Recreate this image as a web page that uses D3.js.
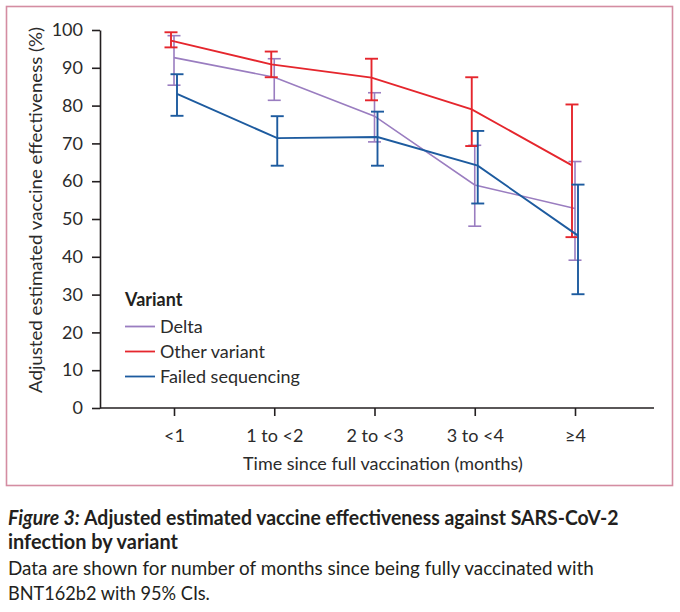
<!DOCTYPE html>
<html>
<head>
<meta charset="utf-8">
<script src="https://cdn.jsdelivr.net/npm/d3@7"></script>
<style>
  html, body { margin: 0; padding: 0; background: #fff; }
  svg { display: block; }
  text { font-family: Lato, "Open Sans", "Noto Sans", sans-serif; }
</style>
</head>
<body>
<svg id="chart" width="680" height="612"></svg>
<script>
// ---- data ----
const categories = ["<1", "1 to <2", "2 to <3", "3 to <4", "\u22654"];
const yTicks = [0, 10, 20, 30, 40, 50, 60, 70, 80, 90, 100];

const deltaVE    = [92.7, 87.5, 77.2, 59.0, 52.8];
const deltaLow   = [85.4, 81.4, 70.4, 48.1, 39.1];
const deltaHigh  = [98.5, 92.4, 83.4, 69.5, 65.2];

const otherVE    = [97.2, 90.9, 87.4, 79.0, 64.2];
const otherLow   = [95.4, 87.5, 81.4, 69.3, 45.2];
const otherHigh  = [99.4, 94.3, 92.4, 87.5, 80.3];

const failedVE   = [83.1, 71.4, 71.7, 64.1, 45.6];
const failedLow  = [77.3, 64.1, 64.1, 54.1, 30.1];
const failedHigh = [88.3, 77.2, 78.4, 73.3, 59.1];

const seriesNames = ["Delta", "Other variant", "Failed sequencing"];

// ---- build series ----
const series = [
  { name: seriesNames[0], ve: deltaVE,  lo: deltaLow,  hi: deltaHigh,  color: "#9a7dc0", width: 1.6, dx: 0 },
  { name: seriesNames[1], ve: otherVE,  lo: otherLow,  hi: otherHigh,  color: "#e5262d", width: 1.9, dx: -3 },
  { name: seriesNames[2], ve: failedVE, lo: failedLow, hi: failedHigh, color: "#1d5b9f", width: 1.9, dx: 3 }
];

const svg = d3.select("#chart");

// frame
svg.append("rect")
  .attr("x", 6.5).attr("y", 6.5)
  .attr("width", 666).attr("height", 479)
  .attr("fill", "none")
  .attr("stroke", "#d48da2")
  .attr("stroke-width", 1.6);

const x = d3.scalePoint().domain(categories).range([174, 575]);
const y = d3.scaleLinear().domain([0, 100]).range([408, 30]);

const axisColor = "#231f20";
const textColor = "#2b2b2b";

// y axis
const yAxis = svg.append("g")
  .attr("transform", "translate(100,0)")
  .call(d3.axisLeft(y).tickValues(yTicks).tickSize(8).tickSizeOuter(0).tickPadding(9));
yAxis.select(".domain").attr("stroke", axisColor).attr("stroke-width", 1.6);
yAxis.selectAll(".tick line").attr("stroke", axisColor).attr("stroke-width", 1.6);
yAxis.selectAll(".tick text")
  .attr("fill", textColor)
  .style("font-size", "18px")
  .style("font-family", "Lato, sans-serif");

// x axis
const xAxis = svg.append("g")
  .attr("transform", "translate(0,408)")
  .call(d3.axisBottom(x).tickSize(8).tickSizeOuter(0).tickPadding(13));
xAxis.select(".domain").remove();
xAxis.append("line")
  .attr("x1", 100).attr("x2", 654).attr("y1", 0).attr("y2", 0)
  .attr("stroke", axisColor).attr("stroke-width", 1.6);
xAxis.selectAll(".tick line").attr("stroke", axisColor).attr("stroke-width", 1.6);
xAxis.selectAll(".tick text")
  .attr("fill", textColor)
  .style("font-size", "18px")
  .style("font-family", "Lato, sans-serif");

// horizontally fit a text to a target width by scaling along x
function fitText(sel, x0, y0, target) {
  const len = sel.node().getComputedTextLength();
  const k = target / len;
  sel.attr("x", 0).attr("y", 0)
     .attr("transform", `translate(${x0},${y0}) scale(${k},1)`);
}

// axis titles
const xt = svg.append("text")
  .attr("text-anchor", "start")
  .attr("fill", textColor)
  .style("font-size", "18px")
  .text("Time since full vaccination (months)");
fitText(xt, 243, 470, 280);

const yt = svg.append("text")
  .attr("text-anchor", "middle")
  .attr("fill", textColor)
  .style("font-size", "18px")
  .text("Adjusted estimated vaccine effectiveness (%)");
{
  const len = yt.node().getComputedTextLength();
  yt.attr("transform", `translate(42,210) rotate(-90) scale(${366 / len},1)`);
}

// series
const capHalf = 6.5;
series.forEach(s => {
  const g = svg.append("g");
  const pts = categories.map((c, i) => ({ c, v: s.ve[i], lo: s.lo[i], hi: s.hi[i] }));
  const line = d3.line().x(d => x(d.c) + s.dx).y(d => y(d.v));
  g.append("path")
    .datum(pts)
    .attr("d", line)
    .attr("fill", "none")
    .attr("stroke", s.color)
    .attr("stroke-width", s.width);
  const eb = g.selectAll("g.eb").data(pts).join("g").attr("class", "eb");
  eb.append("line")
    .attr("x1", d => x(d.c) + s.dx).attr("x2", d => x(d.c) + s.dx)
    .attr("y1", d => y(d.lo)).attr("y2", d => y(d.hi))
    .attr("stroke", s.color).attr("stroke-width", s.width);
  eb.append("line")
    .attr("x1", d => x(d.c) + s.dx - capHalf).attr("x2", d => x(d.c) + s.dx + capHalf)
    .attr("y1", d => y(d.hi)).attr("y2", d => y(d.hi))
    .attr("stroke", s.color).attr("stroke-width", s.width);
  eb.append("line")
    .attr("x1", d => x(d.c) + s.dx - capHalf).attr("x2", d => x(d.c) + s.dx + capHalf)
    .attr("y1", d => y(d.lo)).attr("y2", d => y(d.lo))
    .attr("stroke", s.color).attr("stroke-width", s.width);
});

// legend
const legend = svg.append("g").attr("transform", "translate(125,300)");
legend.append("text")
  .attr("x", 0).attr("y", 6)
  .attr("fill", "#231f20")
  .style("font-size", "18px")
  .style("font-weight", "bold")
  .text("Variant");
series.forEach((s, i) => {
  const yy = 26.5 + i * 25;
  legend.append("line")
    .attr("x1", 0).attr("x2", 30).attr("y1", yy).attr("y2", yy)
    .attr("stroke", s.color).attr("stroke-width", 1.8);
  legend.append("text")
    .attr("x", 35).attr("y", yy + 6)
    .attr("fill", textColor)
    .style("font-size", "18px")
    .text(s.name);
});

// caption
const cap1 = svg.append("text")
  .attr("fill", "#231f20")
  .style("font-size", "20px");
cap1.append("tspan").style("font-style", "italic").style("font-weight", "bold").text("Figure 3: ");
cap1.append("tspan").style("font-weight", "bold").text("Adjusted estimated vaccine effectiveness against SARS-CoV-2");
fitText(cap1, 8, 525, 611);

const cap2 = svg.append("text")
  .attr("fill", "#231f20")
  .style("font-size", "20px")
  .style("font-weight", "bold")
  .text("infection by variant");
fitText(cap2, 8, 549, 170);

const cap3 = svg.append("text")
  .attr("fill", "#231f20")
  .style("font-size", "20px")
  .text("Data are shown for number of months since being fully vaccinated with");
fitText(cap3, 8, 575, 586);

const cap4 = svg.append("text")
  .attr("fill", "#231f20")
  .style("font-size", "20px")
  .text("BNT162b2 with 95% CIs.");
fitText(cap4, 8, 600, 202);
</script>
</body>
</html>
